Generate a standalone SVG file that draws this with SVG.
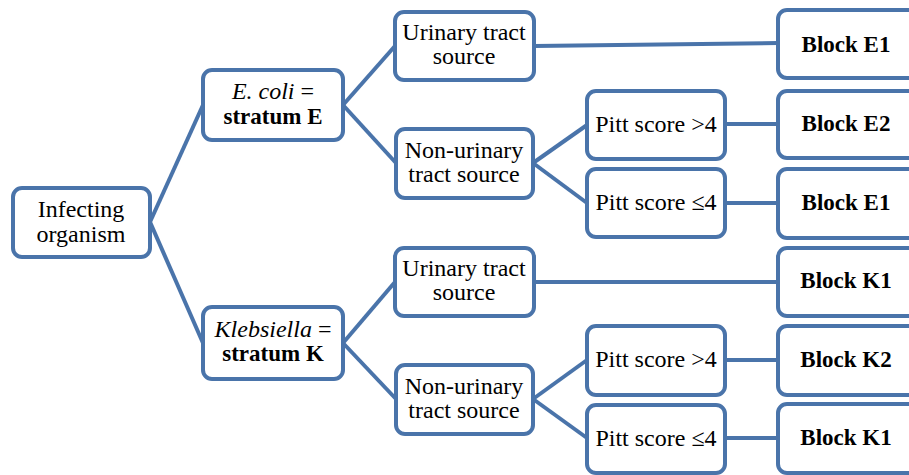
<svg xmlns="http://www.w3.org/2000/svg" width="909" height="475" viewBox="0 0 909 475">
<style>
.box{fill:#fff;stroke:#4a74aa;stroke-width:4}
.ln{stroke:#4a74aa;stroke-width:4;fill:none}
text{font-family:"Liberation Serif","DejaVu Serif",serif;font-size:24px;fill:#000;text-anchor:middle}
.b{font-weight:bold;font-size:23px}
.bk{font-weight:bold;font-size:23px}
</style>
<rect width="909" height="475" fill="#fff"/>
<g id="connectors">
<line class="ln" x1="150" y1="222" x2="203" y2="105"/>
<line class="ln" x1="150" y1="222" x2="203" y2="343"/>
<line class="ln" x1="343" y1="105" x2="395" y2="46"/>
<line class="ln" x1="343" y1="105" x2="396" y2="163"/>
<line class="ln" x1="534" y1="46" x2="778" y2="43"/>
<line class="ln" x1="533" y1="163" x2="587" y2="125"/>
<line class="ln" x1="533" y1="163" x2="587" y2="203"/>
<line class="ln" x1="725" y1="124" x2="778" y2="124"/>
<line class="ln" x1="725" y1="203" x2="778" y2="203"/>
<line class="ln" x1="343" y1="343" x2="395" y2="282"/>
<line class="ln" x1="343" y1="343" x2="396" y2="399"/>
<line class="ln" x1="534" y1="282" x2="778" y2="282"/>
<line class="ln" x1="533" y1="399" x2="587" y2="360"/>
<line class="ln" x1="533" y1="399" x2="587" y2="438"/>
<line class="ln" x1="725" y1="360" x2="778" y2="360"/>
<line class="ln" x1="725" y1="438" x2="778" y2="438"/>
</g>
<g id="infecting">
<rect class="box" x="13" y="188" width="137" height="69" rx="9"/>
<text x="81" y="217">Infecting</text>
<text x="81" y="242">organism</text>
</g>
<g id="ecoli">
<rect class="box" x="203" y="70" width="140" height="70" rx="9"/>
<text x="273" y="99"><tspan font-style="italic">E. coli</tspan> =</text>
<text x="273" y="124" class="b">stratum E</text>
</g>
<g id="kleb">
<rect class="box" x="203" y="307" width="140" height="72" rx="9"/>
<text x="273" y="337"><tspan font-style="italic">Klebsiella</tspan> =</text>
<text x="273" y="361" class="b">stratum K</text>
</g>
<g id="uti-e">
<rect class="box" x="395" y="12" width="139" height="68" rx="9"/>
<text x="464" y="40">Urinary tract</text>
<text x="464" y="64">source</text>
</g>
<g id="nonuti-e">
<rect class="box" x="396" y="129" width="137" height="69" rx="9"/>
<text x="464" y="158">Non-urinary</text>
<text x="464" y="182">tract source</text>
</g>
<g id="uti-k">
<rect class="box" x="395" y="248" width="139" height="68" rx="9"/>
<text x="464" y="276">Urinary tract</text>
<text x="464" y="300">source</text>
</g>
<g id="nonuti-k">
<rect class="box" x="396" y="365" width="137" height="69" rx="9"/>
<text x="464" y="394">Non-urinary</text>
<text x="464" y="418">tract source</text>
</g>
<g id="pitt-e-hi">
<rect class="box" x="587" y="91" width="138" height="68" rx="9"/>
<text x="656" y="132">Pitt score &gt;4</text>
</g>
<g id="pitt-e-lo">
<rect class="box" x="587" y="169" width="138" height="68" rx="9"/>
<text x="656" y="210">Pitt score ≤4</text>
</g>
<g id="pitt-k-hi">
<rect class="box" x="587" y="326" width="138" height="69" rx="9"/>
<text x="656" y="367">Pitt score &gt;4</text>
</g>
<g id="pitt-k-lo">
<rect class="box" x="587" y="405" width="138" height="68" rx="9"/>
<text x="656" y="446">Pitt score ≤4</text>
</g>
<g id="block-e1a">
<rect class="box" x="778" y="10" width="150" height="68" rx="9"/>
<text class="bk" x="846" y="52">Block E1</text>
</g>
<g id="block-e2">
<rect class="box" x="778" y="91" width="150" height="67" rx="9"/>
<text class="bk" x="846" y="131">Block E2</text>
</g>
<g id="block-e1b">
<rect class="box" x="778" y="169" width="150" height="69" rx="9"/>
<text class="bk" x="846" y="210">Block E1</text>
</g>
<g id="block-k1a">
<rect class="box" x="778" y="248" width="150" height="68" rx="9"/>
<text class="bk" x="846" y="288">Block K1</text>
</g>
<g id="block-k2">
<rect class="box" x="778" y="326" width="150" height="69" rx="9"/>
<text class="bk" x="846" y="367">Block K2</text>
</g>
<g id="block-k1b">
<rect class="box" x="778" y="404" width="150" height="69" rx="9"/>
<text class="bk" x="846" y="445">Block K1</text>
</g>
</svg>
